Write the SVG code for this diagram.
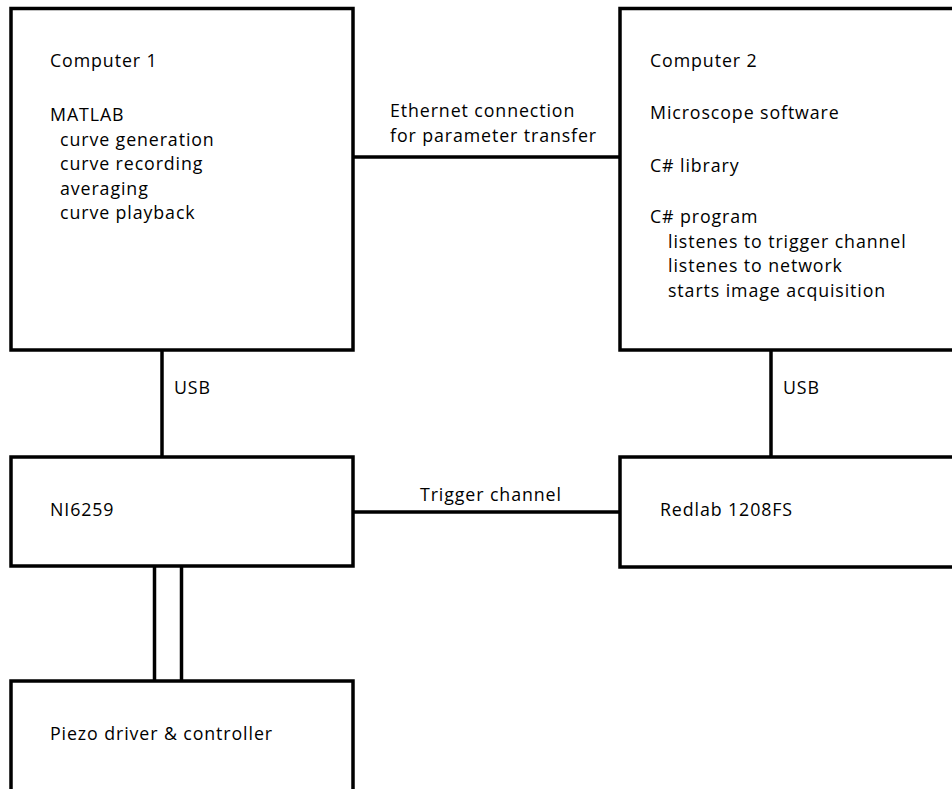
<svg xmlns="http://www.w3.org/2000/svg" width="952" height="789" viewBox="0 0 952 789">
  <style>
    .box { fill: #ffffff; stroke: #000000; stroke-width: 3.5; }
    .wire { fill: none; stroke: #000000; stroke-width: 3.5; }
    text { font-family: "Open Sans", "Noto Sans", "Liberation Sans", sans-serif; font-size: 17.8px; letter-spacing: 0.9px; fill: #000000; }
  </style>
  <rect width="952" height="789" fill="#ffffff"/>

  <!-- connectors -->
  <g id="connectors">
    <line class="wire" x1="353" y1="157" x2="620" y2="157"/>
    <line class="wire" x1="162" y1="350" x2="162" y2="457"/>
    <line class="wire" x1="771" y1="350" x2="771" y2="457"/>
    <line class="wire" x1="353" y1="512" x2="620" y2="512"/>
    <line class="wire" x1="154.5" y1="566" x2="154.5" y2="681"/>
    <line class="wire" x1="181.5" y1="566" x2="181.5" y2="681"/>
    <text x="390" y="117">Ethernet connection</text>
    <text x="390" y="142">for parameter transfer</text>
    <text x="174" y="394">USB</text>
    <text x="783" y="394">USB</text>
    <text x="420" y="501">Trigger channel</text>
  </g>

  <!-- Computer 1 -->
  <g id="computer1">
    <rect class="box" x="11" y="8.5" width="342" height="341.5"/>
    <text x="50" y="67">Computer 1</text>
    <text x="50" y="121">MATLAB</text>
    <text x="60" y="145.5">curve generation</text>
    <text x="60" y="170">curve recording</text>
    <text x="60" y="194.5">averaging</text>
    <text x="60" y="219">curve playback</text>
  </g>

  <!-- Computer 2 -->
  <g id="computer2">
    <rect class="box" x="620" y="8.5" width="345" height="341.5"/>
    <text x="650" y="67">Computer 2</text>
    <text x="650" y="119">Microscope software</text>
    <text x="650" y="172">C# library</text>
    <text x="650" y="223">C# program</text>
    <text x="668" y="247.5">listenes to trigger channel</text>
    <text x="668" y="272">listenes to network</text>
    <text x="668" y="296.5">starts image acquisition</text>
  </g>

  <!-- NI6259 -->
  <g id="ni6259">
    <rect class="box" x="11" y="457" width="342" height="109"/>
    <text x="50" y="516">NI6259</text>
  </g>

  <!-- Redlab 1208FS -->
  <g id="redlab">
    <rect class="box" x="620" y="457" width="345" height="110"/>
    <text x="660" y="516">Redlab 1208FS</text>
  </g>

  <!-- Piezo driver & controller -->
  <g id="piezo">
    <rect class="box" x="11" y="681" width="342" height="120"/>
    <text x="50" y="740">Piezo driver &amp; controller</text>
  </g>
</svg>
